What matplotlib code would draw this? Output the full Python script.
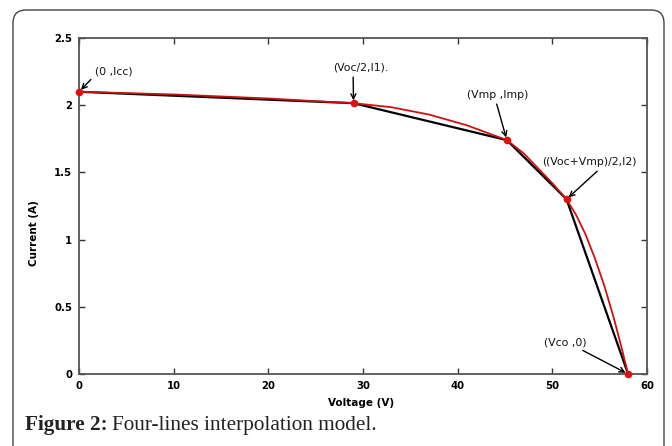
import matplotlib
matplotlib.use("Agg")
import matplotlib.pyplot as plt
from matplotlib.patches import FancyBboxPatch

# ---- data ----
# measured I-V curve (red)
curve_v = [0, 5, 10, 15, 20, 25, 29, 33, 37, 41, 45.2, 47, 48.5, 50, 51.5,
           52.5, 53.5, 54.5, 55.5, 56.5, 57.3, 58]
curve_i = [2.10, 2.09, 2.08, 2.065, 2.05, 2.03, 2.015, 1.985, 1.93, 1.85, 1.74, 1.64, 1.53, 1.42, 1.30,
           1.185, 1.04, 0.86, 0.655, 0.415, 0.20, 0.0]
# four-lines interpolation nodes (black)
node_v = [0, 29, 45.2, 51.5, 58]
node_i = [2.10, 2.015, 1.74, 1.30, 0.0]
node_labels = ["(0 ,Icc)", "(Voc/2,I1).", "(Vmp ,Imp)", "((Voc+Vmp)/2,I2)", "(Vco ,0)"]
x_ticks = [0, 10, 20, 30, 40, 50, 60]
y_ticks = [0, 0.5, 1, 1.5, 2, 2.5]
y_tick_labels = ["0", "0.5", "1", "1.5", "2", "2.5"]

fig = plt.figure(figsize=(6.72, 4.46), dpi=100)
ax = fig.add_axes([79/672, 1-374/446, 568/672, 336/446])

ax.plot(node_v, node_i, color="black", lw=1.6, zorder=3)
ax.plot(curve_v, curve_i, color="#d01010", lw=1.3, zorder=4)
ax.plot(node_v, node_i, linestyle="none", marker="o", ms=4.5, mfc="#e01010",
        mec="#e01010", zorder=5, clip_on=False)

ax.set_xlim(0, 60)
ax.set_ylim(0, 2.5)
ax.set_xticks(x_ticks)
ax.set_xticklabels([str(t) for t in x_ticks])
ax.set_yticks(y_ticks)
ax.set_yticklabels(y_tick_labels)
ax.tick_params(direction="in", length=4, width=1, colors="#333333",
               top=True, right=True, labelsize=7.3, pad=5)
for lab in ax.get_xticklabels() + ax.get_yticklabels():
    lab.set_fontweight("bold")
    lab.set_color("black")
for s in ax.spines.values():
    s.set_color("#555555")
    s.set_linewidth(1.3)

ax.set_xlabel("Voltage (V)", fontsize=7.5, fontweight="bold")
ax.set_ylabel("Current (A)", fontsize=7.5, fontweight="bold")
ax.xaxis.set_label_coords(0.4965, -0.071)
ax.yaxis.set_label_coords(-0.070, 0.418)

# annotation text positions (data coords) and arrow attach points on the text
text_pos = [(3.64, 2.25), (29.8, 2.277), (44.26, 2.076), (53.87, 1.574), (51.4, 0.238)]
rel_pos = [(0.0, 0.1), (0.355, 0.0), (0.46, 0.0), (0.63, 0.0), (0.75, 0.0)]
for lab, v, i, tp, rp in zip(node_labels, node_v, node_i, text_pos, rel_pos):
    ax.annotate(lab, xy=(v, i), xytext=tp, ha="center", va="center",
                fontsize=7.8, color="#111111", zorder=6,
                arrowprops=dict(arrowstyle="->", color="black", lw=1.0,
                                mutation_scale=9, relpos=rp,
                                shrinkA=1, shrinkB=2))

# rounded frame
frame = FancyBboxPatch((0.13, -0.3), 6.51, 4.36 + 0.3,
                       boxstyle="round,pad=0,rounding_size=0.13",
                       transform=fig.dpi_scale_trans, fill=False,
                       edgecolor="#444444", lw=1.0, clip_on=False)
fig.patches.append(frame)

# caption
t1 = fig.text(25/672, 16/446, "Figure 2:", fontsize=15.3, fontweight="bold",
              family="Liberation Serif", va="baseline", ha="left", color="#222222")
fig.canvas.draw()
bb = t1.get_window_extent()
fig.text(bb.x1/672 + 4/672, 16/446, "Four-lines interpolation model.", fontsize=15.3,
         family="Liberation Serif", va="baseline", ha="left", color="#222222")

fig.savefig("out.png", dpi=100)
